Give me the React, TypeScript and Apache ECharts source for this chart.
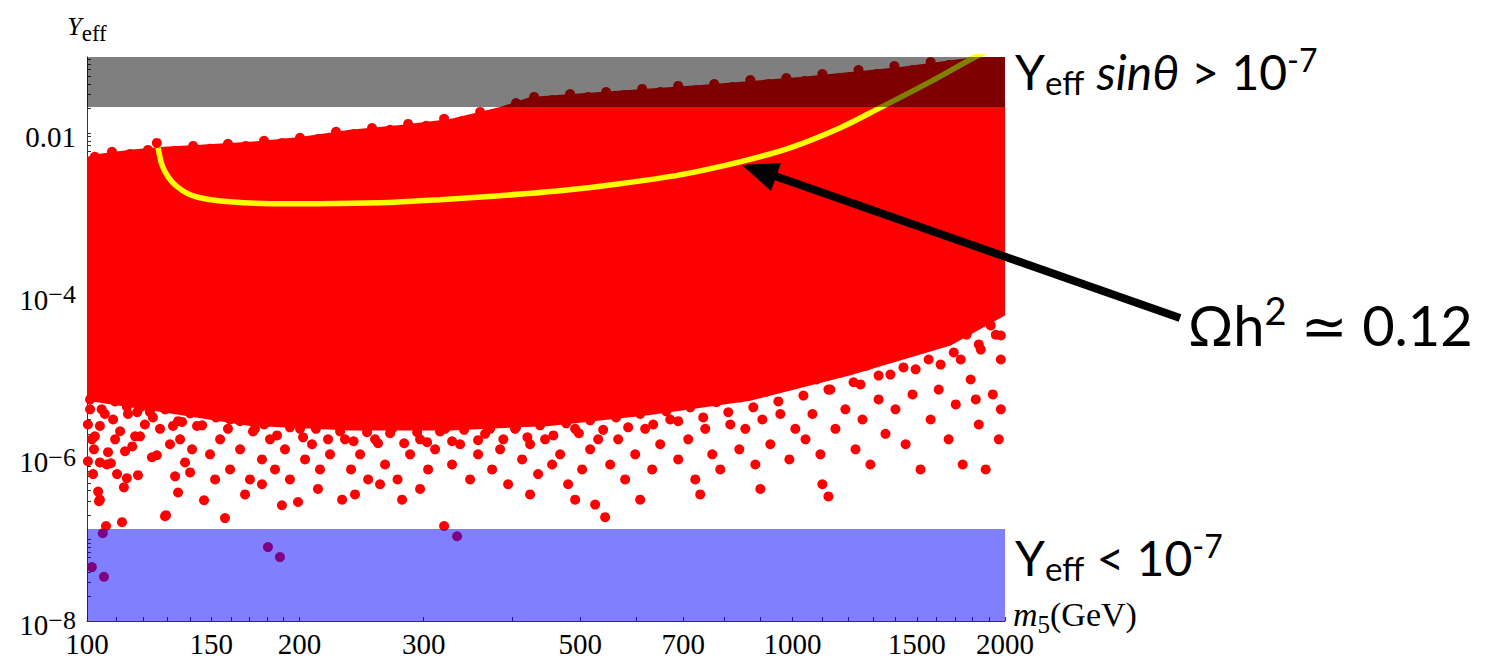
import React, { useEffect, useRef } from "react";
import * as echarts from "echarts";

// ---------- axis values ----------
const xLabelValues = [100, 150, 200, 300, 500, 700, 1000, 1500, 2000];
const xTickValues = [
  110, 120, 130, 140, 150, 160, 170, 180, 190, 200, 300, 400, 500, 600, 700, 800, 900,
  1000, 1100, 1200, 1300, 1400, 1500, 1600, 1700, 1800, 1900, 2000,
];
const yLabelValues = [1e-8, 1e-6, 1e-4, 1e-2];
const yTickMantissas = [1, 2, 3, 4, 5, 6, 7, 8, 9];
const yTickDecades = [-8, -7, -6, -5, -4, -3, -2];
const X_MIN = 100;
const X_MAX = 2000;
const Y_MIN = 1e-8;
const Y_MAX = 0.0857;

// ---------- bands [m5 from, Y from, m5 to, Y to] ----------
const excludedBand = [100, 0.0208, 2000, 0.0857];
const smallYBand = [100, 1e-8, 2000, 1.35e-7];

// ---------- relic-density curve (Omega h^2 = 0.12) ----------
const curveM5 = [126.1, 127.7, 130.3, 133.7, 139.0, 147.0, 159.5, 181.7, 213.9, 260.2, 316.5, 384.9, 468.2, 569.3, 692.3, 842.3, 991.6, 1167, 1330, 1566, 1814, 1950];
const curveY = [6.55e-3, 4.05e-3, 2.88e-3, 2.24e-3, 1.79e-3, 1.55e-3, 1.42e-3, 1.35e-3, 1.35e-3, 1.38e-3, 1.51e-3, 1.69e-3, 1.94e-3, 2.37e-3, 3.05e-3, 4.41e-3, 6.55e-3, 1.15e-2, 2.03e-2, 4.23e-2, 8.57e-2, 0.115];

// ---------- dense scan region (outline) ----------
const cloudUpper: [number, number][] = [
  [100, 5.08e-3], [104.3, 5.53e-3], [115.1, 6.19e-3], [126.9, 6.72e-3], [144.6, 7.13e-3],
  [170.2, 7.76e-3], [200.4, 8.93e-3], [235.9, 1.09e-2], [277.8, 1.25e-2], [326.9, 1.48e-2],
  [385, 2.08e-2], [424.6, 2.76e-2], [533.7, 3.18e-2], [739.8, 3.87e-2], [1025, 4.86e-2],
  [1421, 6.45e-2], [1729, 8.08e-2], [2000, 0.095],
];
const cloudLower: [number, number][] = [
  [100, 5.1e-6], [122.8, 3.9e-6], [170.2, 2.5e-6], [235.9, 2.2e-6], [327, 2.2e-6],
  [453.2, 2.5e-6], [628.3, 3.4e-6], [871.1, 5.1e-6], [1208, 1.05e-5], [1675, 2.43e-5], [2000, 5.7e-5],
];

// ---------- individual scan points ----------
const topEdgePoints: [number, number][] = [
  [102.6, 5.08e-3], [108.5, 5.85e-3], [115.1, 5.52e-3], [122.0, 6.18e-3], [125.6, 7.53e-3], [133.3, 6.01e-3],
  [141.4, 6.92e-3], [149.4, 6.37e-3], [158.4, 7.33e-3], [167.9, 6.92e-3], [178.2, 7.98e-3], [189.0, 7.53e-3],
  [200.4, 8.69e-3], [212.5, 8.44e-3], [225.4, 1.03e-2], [239.0, 9.72e-3], [253.5, 1.15e-2], [268.9, 1.09e-2],
  [285.2, 1.29e-2], [302.4, 1.22e-2], [320.7, 1.49e-2], [340.1, 1.4e-2], [360.7, 1.81e-2], [382.5, 1.76e-2],
  [405.6, 2.33e-2], [430.2, 2.77e-2], [456.2, 2.54e-2], [483.8, 3.01e-2], [513.1, 2.77e-2], [544.2, 3.18e-2],
  [577.1, 2.92e-2], [612.1, 3.47e-2], [649.2, 3.18e-2], [688.5, 3.78e-2], [730.2, 3.37e-2], [774.4, 3.99e-2],
  [821.3, 3.66e-2], [871.1, 4.47e-2], [923.8, 3.99e-2], [979.8, 4.73e-2], [1039, 4.35e-2], [1102, 5.3e-2],
  [1169, 4.73e-2], [1240, 5.93e-2], [1315, 5.3e-2], [1394, 6.64e-2], [1479, 5.93e-2], [1569, 7.43e-2],
  [1664, 6.83e-2],
];
const lowEdgePoints: [number, number][] = [
  [101.0, 5.3e-6], [104.9, 4.0e-6], [109.6, 5.0e-6], [114.3, 3.5e-6], [118.9, 4.23e-6], [124.0, 3.18e-6],
  [129.0, 4.0e-6], [134.6, 2.86e-6], [140.0, 3.57e-6], [145.6, 2.54e-6], [152.4, 3.18e-6], [158.4, 2.3e-6],
  [164.8, 2.86e-6], [171.9, 2.14e-6], [178.2, 2.6e-6], [185.9, 1.91e-6], [193.9, 2.4e-6], [202.4, 1.81e-6],
  [211.1, 2.3e-6], [219.6, 1.71e-6], [228.4, 2.14e-6], [238.7, 1.62e-6], [249.4, 2.09e-6], [258.5, 1.53e-6],
  [268.9, 2.03e-6], [281.5, 1.53e-6], [293.7, 2.09e-6], [303.4, 1.58e-6], [316.5, 2.14e-6], [329.2, 1.62e-6],
  [342.3, 2.24e-6], [358.3, 1.67e-6], [372.6, 2.3e-6], [389.1, 1.71e-6], [405.6, 2.4e-6], [420.9, 1.81e-6],
  [438.7, 2.54e-6], [458.1, 1.91e-6], [477.6, 2.69e-6], [497.9, 2.03e-6], [516.5, 2.93e-6], [538.9, 2.24e-6],
  [562.2, 3.18e-6], [584.7, 2.4e-6], [608.1, 3.5e-6], [634.5, 2.6e-6], [662.1, 3.78e-6], [688.5, 2.86e-6],
  [716.1, 4.23e-6], [747.1, 3.18e-6], [779.5, 4.9e-6], [810.7, 3.68e-6], [843.1, 5.6e-6], [879.7, 4.23e-6],
  [917.9, 6.6e-6], [954.6, 5.0e-6], [992.7, 7.9e-6], [1036, 5.9e-6], [1081, 9.3e-6], [1124, 7.0e-6],
  [1169, 1.13e-5], [1220, 8.6e-6], [1273, 1.38e-5], [1324, 1.04e-5], [1376, 1.73e-5], [1436, 1.31e-5],
  [1499, 2.17e-5], [1559, 1.64e-5], [1621, 2.65e-5], [1692, 2.0e-5], [1765, 3.32e-5], [1836, 2.51e-5],
  [1909, 4.29e-5], [1973, 3.23e-5],
];
const scanPoints: [number, number][] = [
  [100.3, 9.2e-7], [102.0, 6.4e-7], [103.7, 3.9e-7], [104.3, 3.1e-7], [106.4, 1.47e-7], [112.1, 1.64e-7],
  [102.3, 1.29e-6], [104.3, 8.9e-7], [107.1, 1.19e-6], [108.1, 8.7e-7], [110.3, 6.4e-7], [113.9, 5.7e-7],
  [112.8, 4.4e-7], [118.1, 6.2e-7], [123.6, 1.03e-6], [125.6, 1.09e-6], [129.0, 1.94e-7], [134.6, 3.8e-7],
  [133.3, 6.0e-7], [137.7, 8.9e-7], [140.0, 6.7e-7], [143.2, 2.5e-6], [136.4, 2.8e-6], [132.4, 2.5e-6],
  [127.7, 4.7e-6], [124.8, 4.4e-6], [122.8, 3.7e-6], [120.0, 4.4e-6], [117.0, 1.86e-6], [113.2, 1.22e-6],
  [115.9, 1.4e-6], [118.9, 1.86e-6], [106.7, 8.4e-7], [102.6, 1.86e-6], [104.3, 2.5e-6], [108.9, 3.0e-6],
  [111.4, 2.15e-6], [113.9, 4.3e-6], [117.8, 3.7e-6], [104.0, 2.97e-7], [129.4, 2.0e-7], [101.0, 4.0e-6],
  [106.0, 3.5e-6], [109.6, 1.71e-6], [120.8, 2.6e-6], [126.9, 2.3e-6], [131.1, 1.49e-6], [135.5, 1.71e-6],
  [140.9, 1.29e-6], [142.3, 4.0e-6], [100.3, 2.6e-6], [101.6, 1.71e-6],
  [105.3, 1.2e-7], [101.6, 4.6e-8], [105.7, 3.5e-8], [180.5, 8.1e-8], [187.7, 6.1e-8], [334.6, 1.1e-7],
  [146.5, 3.05e-7], [156.9, 1.84e-7], [188.9, 2.65e-7], [199.1, 2.9e-7], [229.9, 3.1e-7], [149.4, 1.12e-6],
  [154.4, 1.71e-6], [159.5, 7.3e-7], [164.8, 1.29e-6], [170.2, 5.5e-7], [173.0, 2.3e-6], [177.0, 9.7e-7],
  [181.7, 1.71e-6], [184.7, 7.3e-7], [190.8, 1.29e-6], [193.9, 5.5e-7], [200.4, 2.3e-6], [203.7, 9.7e-7],
  [208.4, 1.49e-6], [213.9, 7.3e-7], [221.0, 1.12e-6], [224.6, 2.6e-6], [232.1, 1.71e-6], [236.7, 7.3e-7],
  [243.8, 1.12e-6], [250.3, 5.5e-7], [256.0, 1.71e-6], [264.5, 8.4e-7], [270.6, 2.3e-6], [275.5, 5.5e-7],
  [159.5, 3.0e-6], [187.7, 3.0e-6], [221.0, 4.0e-6], [260.2, 3.0e-6], [151.9, 5.5e-7], [167.5, 3.6e-7],
  [177.0, 4.8e-7], [212.5, 4.2e-7], [239.8, 3.6e-7], [260.2, 4.8e-7],
  [279.6, 3.1e-7], [320.7, 1.47e-7], [287.0, 1.12e-6], [296.5, 1.71e-6], [304.4, 7.3e-7], [311.4, 1.29e-6],
  [321.7, 2.3e-6], [329.1, 8.4e-7], [337.9, 1.49e-6], [349.1, 5.5e-7], [358.3, 1.12e-6], [366.6, 2.0e-6],
  [375.1, 7.3e-7], [385.0, 1.29e-6], [395.2, 4.8e-7], [404.3, 2.3e-6], [413.7, 9.7e-7], [424.6, 1.49e-6],
  [435.8, 6.4e-7], [445.9, 1.71e-6], [456.2, 8.4e-7], [468.3, 1.12e-6], [480.7, 4.8e-7], [491.8, 2.3e-6],
  [503.2, 7.3e-7], [516.5, 1.29e-6], [525.0, 2.7e-7], [542.4, 1.89e-7], [530.2, 1.71e-6], [291.7, 2.6e-6],
  [343.4, 3.0e-6], [391.3, 3.0e-6], [460.7, 3.0e-6], [296.5, 4.2e-7], [424.6, 3.6e-7], [491.8, 3.1e-7],
  [551.4, 8.4e-7], [566.0, 1.71e-6], [579.0, 5.5e-7], [598.3, 1.12e-6], [618.1, 2.3e-6], [632.4, 7.3e-7],
  [649.2, 1.49e-6], [670.8, 3.0e-6], [688.5, 9.7e-7], [711.4, 1.71e-6], [727.9, 5.5e-7], [752.0, 2.3e-6],
  [769.4, 1.12e-6], [789.8, 7.3e-7], [816.0, 2.6e-6], [840.4, 1.29e-6], [857.0, 2.3e-6], [885.5, 8.4e-7],
  [905.9, 3.0e-6], [929.9, 1.49e-6], [960.8, 3.5e-6], [989.5, 9.7e-7], [1009, 2.3e-6], [608.1, 3.1e-7],
  [739.8, 3.6e-7], [900.1, 4.2e-7],
  [1102, 4.8e-7], [1124, 3.4e-7], [1043, 1.71e-6], [1067, 3.5e-6], [1095, 1.12e-6], [1150, 2.3e-6],
  [1188, 4.0e-6], [1228, 1.29e-6], [1256, 3.0e-6], [1289, 8.4e-7], [1324, 5.3e-6], [1354, 2.0e-6],
  [1399, 4.0e-6], [1446, 1.49e-6], [1479, 6.1e-6], [1518, 7.3e-7], [1569, 3.0e-6], [1611, 7.0e-6],
  [1664, 1.71e-6], [1703, 4.6e-6], [1742, 8.4e-7], [1788, 9.3e-6], [1836, 2.6e-6], [1878, 7.3e-7],
  [1922, 6.1e-6], [1960, 1.71e-6], [1973, 1.64e-5], [1941, 3.3e-5], [1848, 2.17e-5], [1731, 1.64e-5],
  [1621, 1.42e-5], [1494, 1.24e-5], [1376, 1.07e-5], [1248, 8.1e-6], [1131, 7.0e-6], [1973, 4.0e-6],
  [1818, 5.3e-6],
];

const SERIF = "'Liberation Serif', 'DejaVu Serif', serif";
const SANS = "Lato, 'Open Sans', 'DejaVu Sans', sans-serif";

export default function App() {
  const ref = useRef<HTMLDivElement>(null);

  useEffect(() => {
    if (!ref.current) return;
    const chart = echarts.init(ref.current, undefined, { renderer: "svg" });

    const yTickValues: number[] = [];
    yTickDecades.forEach((d) => {
      yTickMantissas.forEach((m) => {
        const v = m * Math.pow(10, d);
        if (v <= Y_MAX) yTickValues.push(v);
      });
    });

    const bandItem = (color: string) => (params: any, api: any) => {
      const p1 = api.coord([api.value(0), api.value(3)]);
      const p2 = api.coord([api.value(2), api.value(1)]);
      return {
        type: "rect",
        shape: { x: p1[0], y: p1[1], width: p2[0] - p1[0], height: p2[1] - p1[1] },
        style: { fill: color },
      };
    };

    const annMain = { fontFamily: SANS, fontSize: 48, lineHeight: 48, color: "#000", padding: [8, 0, 6, 0] };
    const annIt = { ...annMain, fontStyle: "italic" };
    const annSub = { fontFamily: SANS, fontSize: 33, lineHeight: 33, color: "#000", padding: [26, 0, 3, 0] };
    const annSup = { fontFamily: SANS, fontSize: 32, lineHeight: 32, color: "#000", padding: [4, 0, 26, 0] };

    const option: any = {
      animation: false,
      backgroundColor: "#ffffff",
      grid: { left: 87, right: 487, top: 57, bottom: 36, containLabel: false },
      xAxis: {
        type: "log",
        min: X_MIN,
        max: X_MAX,
        axisLine: { show: true, lineStyle: { color: "#333", width: 1 } },
        axisTick: { show: true, inside: true, length: 4, customValues: xTickValues, lineStyle: { color: "#333" } },
        minorTick: { show: false },
        splitLine: { show: false },
        axisLabel: {
          customValues: xLabelValues,
          fontFamily: SERIF,
          fontSize: 29,
          color: "#000",
          margin: 8,
          hideOverlap: false,
          formatter: (v: number) => String(Math.round(v)),
        },
        name: "{m|m}{s|5}{g|(GeV)}",
        nameLocation: "end",
        nameGap: 8,
        nameMoveOverlap: false,
        nameTextStyle: {
          padding: [0, 0, 6, 0],
          rich: {
            m: { fontFamily: SERIF, fontStyle: "italic", fontSize: 34, lineHeight: 34, color: "#000", padding: [0, 0, 8, 0] },
            s: { fontFamily: SERIF, fontSize: 25, lineHeight: 25, color: "#000", padding: [15, 0, 2, 0] },
            g: { fontFamily: SERIF, fontSize: 34, lineHeight: 34, color: "#000", padding: [0, 0, 8, 0] },
          },
        },
      },
      yAxis: {
        type: "log",
        min: Y_MIN,
        max: Y_MAX,
        axisLine: { show: true, lineStyle: { color: "#333", width: 1 } },
        axisTick: { show: true, inside: true, length: 4, customValues: yTickValues, lineStyle: { color: "#333" } },
        minorTick: { show: false },
        splitLine: { show: false },
        axisLabel: {
          customValues: yLabelValues,
          margin: 11,
          hideOverlap: false,
          formatter: (v: number) => {
            const e = Math.round(Math.log10(v));
            if (e === -2) return "{n|0.01}";
            return "{n|10}{s|\u2212" + -e + "}";
          },
          rich: {
            n: { fontFamily: SERIF, fontSize: 29, lineHeight: 28, color: "#000", padding: [8, 0, 0, 0] },
            s: { fontFamily: SERIF, fontSize: 26, lineHeight: 28, color: "#000", verticalAlign: "top", padding: [0, 0, 8, 0] },
          },
        },
        name: "{y|Y}{e|eff}",
        nameLocation: "end",
        nameGap: 16,
        nameMoveOverlap: false,
        nameTextStyle: {
          rich: {
            y: { fontFamily: SERIF, fontStyle: "italic", fontSize: 26, lineHeight: 24, color: "#000", padding: [0, 0, 6, 0] },
            e: { fontFamily: SERIF, fontSize: 23, lineHeight: 22, color: "#000", padding: [8, 0, 0, 0] },
          },
        },
      },
      series: [
        {
          type: "custom",
          name: "cloud",
          z: 2,
          clip: true,
          data: [[200, 1e-4]],
          encode: { x: 0, y: 1 },
          renderItem: (params: any, api: any) => {
            const pts: number[][] = [];
            cloudUpper.forEach((p) => pts.push(api.coord(p)));
            cloudLower.slice().reverse().forEach((p) => pts.push(api.coord(p)));
            return { type: "polygon", shape: { points: pts }, style: { fill: "#ff0000" } };
          },
        },
        {
          type: "scatter",
          name: "scan",
          z: 3,
          clip: true,
          symbol: "circle",
          symbolSize: 10,
          itemStyle: { color: "#ff0000", opacity: 1 },
          data: [...topEdgePoints, ...lowEdgePoints, ...scanPoints],
        },
        {
          type: "line",
          name: "relic",
          z: 4,
          clip: true,
          smooth: 0.3,
          showSymbol: false,
          symbol: "none",
          lineStyle: { color: "#ffff00", width: 5.5 },
          data: curveM5.map((m, i) => [m, curveY[i]]),
        },
        {
          type: "custom",
          name: "excluded",
          z: 6,
          clip: true,
          data: [excludedBand],
          encode: { x: [0, 2], y: [1, 3] },
          renderItem: bandItem("rgba(0,0,0,0.5)"),
        },
        {
          type: "custom",
          name: "smallY",
          z: 6,
          clip: true,
          data: [smallYBand],
          encode: { x: [0, 2], y: [1, 3] },
          renderItem: bandItem("rgba(0,0,255,0.5)"),
        },
      ],
      graphic: [
        {
          type: "line",
          z: 100,
          shape: { x1: 1180, y1: 318, x2: 772, y2: 175 },
          style: { stroke: "#000", lineWidth: 8 },
        },
        {
          type: "polygon",
          z: 100,
          shape: { points: [[742, 165], [771, 191], [781, 163]] },
          style: { fill: "#000" },
        },
        {
          type: "text",
          z: 100,
          x: 1015,
          y: 46,
          style: {
            text: "{m|Y}{sub|eff}{m| }{it|sin\u03b8}{m| > 10}{sup|-7}",
            verticalAlign: "top",
            align: "left",
            rich: { m: annMain, it: annIt, sub: annSub, sup: annSup },
          },
        },
        {
          type: "text",
          z: 100,
          x: 1015,
          y: 532,
          style: {
            text: "{m|Y}{sub|eff}{m| < 10}{sup|-7}",
            verticalAlign: "top",
            align: "left",
            rich: { m: annMain, sub: annSub, sup: annSup },
          },
        },
        {
          type: "text",
          z: 100,
          x: 1188,
          y: 289,
          style: {
            text: "{m|\u03a9h}{sup|2}{m| \u2243 0.12}",
            verticalAlign: "top",
            align: "left",
            rich: {
              m: { fontFamily: SANS, fontSize: 56, lineHeight: 56, color: "#000", padding: [14, 0, 0, 0] },
              sup: { fontFamily: SANS, fontSize: 38, lineHeight: 38, color: "#000", padding: [9, 0, 23, 0] },
            },
          },
        },
      ],
    };

    chart.setOption(option);
    return () => chart.dispose();
  }, []);

  return (
    <div
      ref={ref}
      style={{ position: "fixed", left: 0, top: 0, width: 1492, height: 658, background: "#fff" }}
    />
  );
}
